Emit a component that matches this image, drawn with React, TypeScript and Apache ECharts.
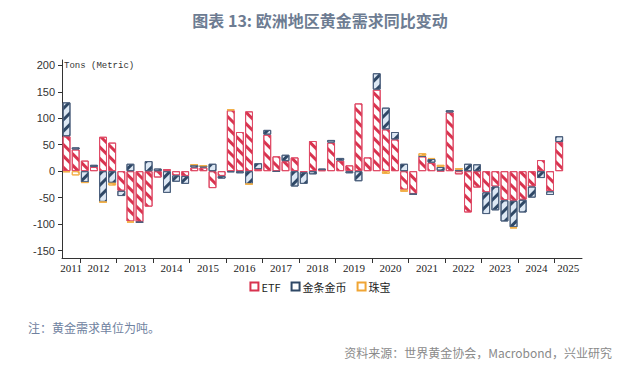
import React, { useEffect, useRef } from "react";
import * as echarts from "echarts";

const quarters = [
  "2011Q3", "2011Q4",
  "2012Q1", "2012Q2", "2012Q3", "2012Q4",
  "2013Q1", "2013Q2", "2013Q3", "2013Q4",
  "2014Q1", "2014Q2", "2014Q3", "2014Q4",
  "2015Q1", "2015Q2", "2015Q3", "2015Q4",
  "2016Q1", "2016Q2", "2016Q3", "2016Q4",
  "2017Q1", "2017Q2", "2017Q3", "2017Q4",
  "2018Q1", "2018Q2", "2018Q3", "2018Q4",
  "2019Q1", "2019Q2", "2019Q3", "2019Q4",
  "2020Q1", "2020Q2", "2020Q3", "2020Q4",
  "2021Q1", "2021Q2", "2021Q3", "2021Q4",
  "2022Q1", "2022Q2", "2022Q3", "2022Q4",
  "2023Q1", "2023Q2", "2023Q3", "2023Q4",
  "2024Q1", "2024Q2", "2024Q3", "2024Q4",
  "2025Q1", "2025Q2", "2025Q3",
];

const etf = [
  66, 41,
  20, 8, 65, 54,
  -37, -95, -96, -67,
  -12, 4, -8, -9,
  7, 7, -32, -9,
  115, 74, 113, 4,
  69, 28, 19, 26,
  -2, 57, 2, 54,
  20, 11, 128, 26,
  154, 79, 60, -35,
  -43, 28, 16, 1,
  111, -6, -78, -31,
  -40, -29, -55, -56,
  -54, -29, 21, -38,
  55, null, null,
];

const barsCoins = [
  64, 4,
  -21, 4, -58, -22,
  -10, 14, -1, 19,
  5, -41, -12, -15,
  5, 3, 14, -5,
  -2, -4, -24, 11,
  9, -1, 12, -29,
  -22, -6, 3, 5,
  5, -4, -19, null,
  31, 41, 14, 14,
  -1, 1, 7, 7,
  4, 3, 14, 13,
  -41, -45, -40, -50,
  -24, -21, -13, -7,
  11, null, null,
];

const jewellery = [
  -2, -8,
  -1, null, -1, -5,
  null, -2, null, null,
  null, null, null, null,
  1, 1, null, null,
  2, null, -1, null,
  null, null, null, null,
  null, null, null, null,
  null, null, null, null,
  null, -5, null, -4,
  null, 5, 2, 4,
  null, 3, null, null,
  null, null, null, -2,
  null, null, null, null,
  null, null, null,
];

const years = ["2011", "2012", "2013", "2014", "2015", "2016", "2017", "2018", "2019", "2020", "2021", "2022", "2023", "2024", "2025"];
const yTicks = [-150, -100, -50, 0, 50, 100, 150, 200];
const seriesNames = ["ETF", "金条金币", "珠宝"];

const RED = "#d8334f";
const NAVY = "#2f4866";
const ORANGE = "#f0a534";

export default function App() {
  const ref = useRef<HTMLDivElement>(null);

  useEffect(() => {
    if (!ref.current) return;
    const chart = echarts.init(ref.current, null, { renderer: "svg" });

    const boundaries: number[] = [];
    const centers: number[] = [];
    const centerLabel: Record<string, string> = {};
    years.forEach((y) => {
      const first = quarters.findIndex((q) => q.startsWith(y));
      let last = first;
      quarters.forEach((q, i) => {
        if (q.startsWith(y)) last = i;
      });
      if (first > 0) boundaries.push(first);
      const c = (first + last + 1) / 2;
      centers.push(c);
      centerLabel[String(Math.round(c * 2))] = y;
    });

    const mkDecal = (color: string, bg: string, rot: number) => ({
      symbol: "rect",
      symbolSize: 1,
      color,
      backgroundColor: bg,
      dashArrayX: [1, 0],
      dashArrayY: [2.5, 5],
      rotation: rot,
    });

    const styles = [
      { color: "#ffffff", borderColor: "#df4a66", borderWidth: 1, decal: mkDecal(RED, "#ffffff", Math.PI / 4) },
      { color: "#dde8f4", borderColor: "#4b5f7c", borderWidth: 1, decal: mkDecal(NAVY, "#dde8f4", -Math.PI / 4) },
      { color: "#ffffff", borderColor: "#f2b04a", borderWidth: 1, decal: mkDecal(ORANGE, "#ffffff", Math.PI / 4) },
    ];
    const datas = [etf, barsCoins, jewellery];
    const legendColors = [RED, NAVY, ORANGE];

    chart.setOption({
      animation: false,
      backgroundColor: "#ffffff",
      title: {
        text: "图表 13: 欧洲地区黄金需求同比变动",
        left: "center",
        top: 7,
        textStyle: {
          fontFamily: "Noto Sans CJK SC",
          fontSize: 16,
          fontWeight: "bold",
          color: "#6d7c92",
        },
      },
      grid: { left: 62, right: 58, top: 60, bottom: 114 },
      legend: {
        top: 276,
        left: "center",
        icon: "rect",
        itemWidth: 8,
        itemHeight: 8,
        itemGap: 10,
        textStyle: { fontFamily: "Noto Sans CJK SC", fontSize: 11, color: "#222", padding: [0, 0, 0, -2] },
        data: seriesNames.map((n, i) => ({
          name: n,
          itemStyle: { color: "#ffffff", borderColor: legendColors[i], borderWidth: 2, decal: "none" },
        })),
      },
      xAxis: [
        { type: "category", data: quarters, show: false },
        {
          type: "value",
          min: 0,
          max: quarters.length,
          position: "bottom",
          axisLine: { show: true, onZero: false, lineStyle: { color: "#333", width: 1 } },
          axisTick: { show: true, customValues: boundaries, length: 5, lineStyle: { color: "#333" } },
          axisLabel: {
            customValues: centers,
            formatter: (v: number) => centerLabel[String(Math.round(v * 2))] ?? "",
            fontFamily: "Liberation Serif",
            fontSize: 11,
            color: "#222",
            margin: 4,
          },
          splitLine: { show: false },
        },
      ],
      yAxis: {
        type: "value",
        min: -164,
        max: 210,
        name: "Tons (Metric)",
        nameLocation: "end",
        nameGap: 0,
        nameTextStyle: {
          align: "left",
          verticalAlign: "top",
          fontFamily: "Liberation Mono",
          fontSize: 9,
          color: "#333",
          padding: [1, 0, 0, 2],
        },
        axisLine: { show: true, lineStyle: { color: "#333" } },
        axisTick: { show: true, customValues: yTicks, length: 4, lineStyle: { color: "#333" } },
        axisLabel: {
          customValues: yTicks,
          fontFamily: "Liberation Sans",
          fontSize: 11,
          color: "#333",
          margin: 7,
        },
        splitLine: { show: false },
      },
      series: seriesNames.map((n, i) => ({
        name: n,
        type: "bar",
        stack: "total",
        xAxisIndex: 0,
        yAxisIndex: 0,
        barWidth: "86%",
        data: datas[i],
        itemStyle: styles[i],
      })),
      graphic: [
        {
          type: "text",
          left: 28,
          top: 321,
          style: { text: "注：黄金需求单位为吨。", fill: "#6f82a0", font: '12px "Noto Sans CJK SC"' },
        },
        {
          type: "text",
          right: 28,
          top: 346,
          style: { text: "资料来源：世界黄金协会，Macrobond，兴业研究", fill: "#8a8a8a", font: '12px "Noto Sans CJK SC"' },
        },
      ],
    });

    return () => chart.dispose();
  }, []);

  return <div ref={ref} style={{ position: "fixed", left: 0, top: 0, width: 640, height: 372 }} />;
}
